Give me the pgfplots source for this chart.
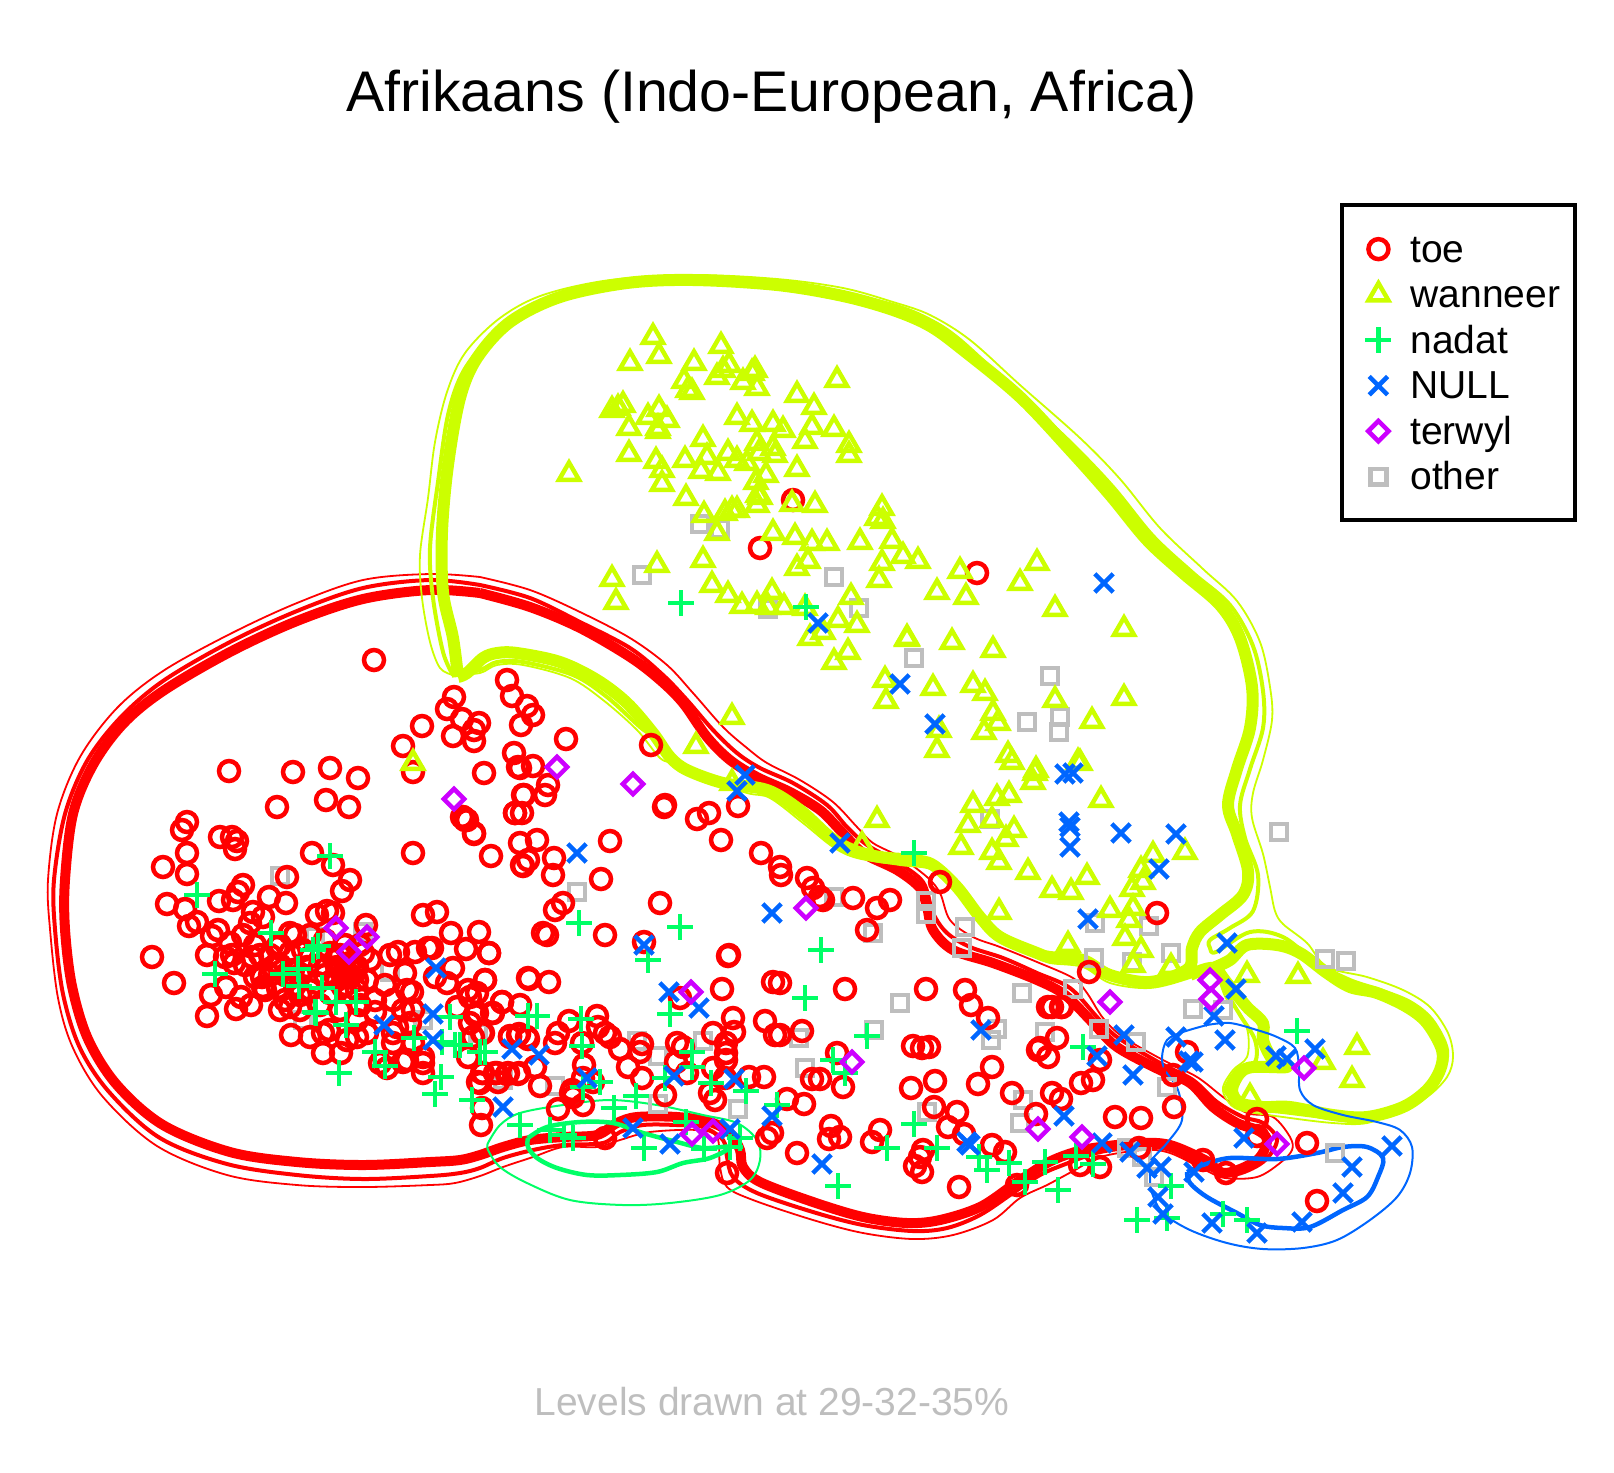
\documentclass[border=0pt]{standalone}
\usepackage{fontspec}
\setmainfont{Liberation Sans}
\usepackage{pgfplots}
\pgfplotsset{compat=1.18}
\definecolor{cToe}{HTML}{FF0000}
\definecolor{cWan}{HTML}{CCFF00}
\definecolor{cNad}{HTML}{00FF66}
\definecolor{cNul}{HTML}{0066FF}
\definecolor{cTer}{HTML}{CC00FF}
\definecolor{cOth}{HTML}{BEBEBE}
\pgfplotsset{
  lev/.style={forget plot, no markers, smooth, tension=0.55, line join=round},
  thinL/.style={lev, line width=0.18mm},
  midL/.style={lev, line width=0.4mm},
  thickL/.style={lev, line width=1.0mm},
  mk/.style={only marks, legend image code/.code={\draw[##1] plot coordinates {(0.23cm,0.13cm)}; \path (0cm,0cm) (0.49cm,0cm);}},
}
\begin{document}
\begin{tikzpicture}
\begin{axis}[
  scale only axis, width=161.4mm, height=147.2mm,
  xmin=0, xmax=1614, ymin=0, ymax=1472, y dir=reverse,
  axis lines=none, clip=false,
  title={Afrikaans (Indo-European, Africa)},
  title style={at={(0.478,0.920)}, anchor=center, font=\fontsize{16.3}{17}\selectfont},
  legend style={at={(0.8305,0.862)}, anchor=north west, draw=black, line width=0.4mm,
    font=\fontsize{11.1}{12}\selectfont, inner xsep=1.1mm, inner ysep=2.1mm, row sep=0pt,
    nodes={inner ysep=0pt, inner xsep=0.4mm, text height=3.6mm, text depth=0.95mm, anchor=base west}},
  legend cell align=left,
]
\path (rel axis cs:0,0) rectangle (rel axis cs:1,1);

% red contours
\addplot[thinL, cToe] coordinates {(480,577)(530,590)(580,612)(630,638)(667,665)(693,693)(723,727)(747,748)(767,763)(800,780)(833,802)(857,827)(873,843)(900,857)(927,877)(940,893)(950,920)(973,937)(1000,947)(1037,962)(1073,978)(1087,993)(1103,1018)(1123,1037)(1163,1060)(1197,1077)(1223,1097)(1247,1113)(1273,1117)(1290,1137)(1292,1150)(1280,1163)(1257,1177)(1225,1178)(1205,1170)(1170,1153)(1143,1150)(1100,1157)(1075,1170)(1047,1185)(1020,1198)(993,1220)(953,1235)(913,1239)(863,1233)(813,1220)(753,1200)(727,1187)(720,1167)(717,1137)(697,1130)(650,1132)(620,1140)(597,1147)(563,1147)(533,1157)(503,1167)(480,1176)(455,1183)(430,1185)(363,1187)(297,1185)(227,1175)(157,1146)(103,1097)(73,1048)(58,998)(50,929)(48,880)(57,814)(80,757)(117,708)(163,671)(230,634)(297,603)(363,580)(430,574)(480,577)};
\addplot[midL, cToe] coordinates {(480,585)(530,598)(580,622)(630,648)(663,675)(687,700)(713,730)(737,753)(760,768)(793,783)(827,805)(847,827)(867,845)(897,862)(923,882)(933,913)(947,933)(970,947)(1003,958)(1037,973)(1070,988)(1097,1017)(1117,1037)(1160,1063)(1193,1080)(1217,1102)(1243,1117)(1263,1123)(1277,1140)(1263,1162)(1233,1175)(1207,1168)(1170,1150)(1143,1147)(1100,1152)(1063,1165)(1040,1175)(1013,1193)(980,1215)(947,1228)(913,1231)(863,1225)(813,1212)(757,1193)(733,1177)(727,1157)(723,1140)(703,1127)(677,1125)(643,1125)(620,1132)(603,1143)(563,1145)(533,1150)(503,1158)(480,1168)(460,1173)(430,1176)(363,1179)(297,1175)(227,1164)(160,1138)(110,1093)(80,1048)(63,994)(55,929)(54,880)(65,814)(87,761)(120,718)(163,681)(230,642)(297,611)(363,588)(430,580)(480,585)};
\addplot[thickL, cToe] coordinates {(480,593)(530,607)(580,628)(630,657)(660,680)(683,703)(707,737)(730,760)(757,777)(790,792)(820,810)(840,830)(863,853)(897,870)(920,888)(927,907)(933,930)(953,950)(993,963)(1037,980)(1065,995)(1093,1023)(1117,1047)(1160,1070)(1190,1083)(1213,1107)(1237,1123)(1257,1130)(1267,1140)(1257,1160)(1225,1173)(1205,1160)(1170,1145)(1140,1143)(1100,1147)(1075,1152)(1047,1163)(1013,1185)(980,1207)(940,1220)(907,1223)(863,1217)(813,1202)(760,1182)(743,1167)(740,1150)(730,1133)(710,1122)(677,1117)(637,1117)(617,1123)(597,1135)(563,1137)(530,1140)(503,1147)(480,1155)(460,1160)(430,1162)(363,1165)(297,1162)(230,1152)(163,1125)(117,1085)(88,1039)(72,986)(65,929)(65,880)(73,814)(93,765)(123,724)(163,691)(230,652)(297,621)(363,599)(430,590)(480,593)};

% lime contours
\addplot[thinL, cWan] coordinates {(453,675)(440,668)(430,642)(422,598)(420,555)(428,498)(435,442)(447,392)(465,353)(500,318)(543,295)(610,280)(693,275)(777,279)(843,288)(893,302)(930,315)(970,340)(1020,385)(1080,438)(1120,479)(1160,528)(1203,569)(1237,601)(1260,642)(1270,687)(1272,720)(1263,760)(1253,793)(1252,818)(1263,854)(1270,887)(1275,911)(1283,924)(1307,943)(1327,967)(1367,977)(1403,990)(1430,1007)(1448,1033)(1453,1057)(1447,1077)(1427,1097)(1400,1110)(1367,1123)(1333,1123)(1283,1117)(1240,1110)(1227,1100)(1223,1087)(1233,1070)(1247,1057)(1248,1033)(1240,1013)(1227,1000)(1220,983)(1215,967)(1190,978)(1150,988)(1110,983)(1083,967)(1050,963)(1037,957)(1000,942)(980,922)(957,892)(933,870)(900,865)(857,858)(833,847)(803,823)(770,798)(747,793)(700,778)(675,764)(660,758)(637,730)(603,700)(570,678)(523,665)(497,665)(480,673)(453,675)};
\addplot[midL, cWan] coordinates {(453,675)(443,652)(433,598)(430,548)(438,482)(448,415)(463,372)(490,338)(530,308)(587,288)(660,278)(743,280)(827,291)(893,305)(930,320)(960,340)(1013,389)(1070,442)(1113,487)(1153,536)(1193,573)(1230,605)(1253,646)(1263,691)(1263,728)(1250,769)(1240,805)(1245,838)(1258,875)(1253,911)(1230,928)(1210,940)(1210,948)(1216,952)(1250,932)(1283,937)(1317,963)(1350,980)(1380,990)(1410,1002)(1432,1020)(1447,1050)(1440,1075)(1420,1095)(1395,1110)(1367,1120)(1333,1118)(1283,1112)(1240,1107)(1228,1095)(1226,1087)(1237,1070)(1255,1062)(1255,1040)(1240,1015)(1225,990)(1215,968)(1190,976)(1150,985)(1110,979)(1083,964)(1050,960)(1037,955)(1000,940)(980,920)(957,890)(933,868)(900,862)(857,856)(833,844)(803,819)(770,795)(747,789)(700,775)(675,761)(655,738)(640,727)(607,697)(573,675)(523,662)(497,662)(480,670)(453,675)};
\addplot[thickL, cWan, line width=1.2mm] coordinates {(458,677)(453,638)(443,592)(442,532)(448,465)(460,398)(477,358)(510,322)(560,297)(627,283)(693,280)(777,285)(843,296)(893,310)(930,326)(963,350)(1020,397)(1070,450)(1110,495)(1147,540)(1183,573)(1220,605)(1240,638)(1252,687)(1250,728)(1237,769)(1228,805)(1237,834)(1248,871)(1243,895)(1220,915)(1200,932)(1192,948)(1188,969)(1150,982)(1110,975)(1083,960)(1050,957)(1037,953)(1000,937)(980,917)(957,887)(933,865)(913,860)(880,857)(853,850)(830,837)(800,810)(767,790)(723,783)(687,770)(670,757)(653,733)(627,703)(597,680)(560,662)(517,653)(497,653)(483,658)(467,673)(458,677)};
\addplot[thickL, cWan, line width=1.2mm] coordinates {(1190,975)(1213,968)(1227,983)(1247,1007)(1263,1023)(1263,1040)(1273,1060)(1287,1067)(1253,1067)(1240,1073)(1232,1090)(1240,1103)(1263,1107)(1290,1107)(1333,1115)(1367,1117)(1403,1107)(1427,1090)(1440,1070)(1442,1050)(1427,1023)(1407,1007)(1377,993)(1350,987)(1327,973)(1300,953)(1277,945)(1247,945)(1230,960)(1213,968)};

% green contours
\addplot[thinL, cNad, line width=0.2mm] coordinates {(488,1143)(500,1125)(520,1113)(563,1105)(610,1100)(657,1105)(703,1115)(737,1123)(757,1140)(760,1160)(750,1180)(720,1195)(670,1203)(623,1205)(570,1200)(527,1183)(500,1167)(488,1150)(488,1143)};
\addplot[midL, cNad, line width=0.45mm] coordinates {(528,1138)(547,1127)(580,1122)(613,1123)(643,1133)(677,1142)(703,1148)(730,1147)(710,1158)(683,1163)(657,1172)(620,1175)(587,1175)(557,1168)(537,1158)(528,1147)(528,1138)};

% blue contours
\addplot[thinL, cNul, line width=0.2mm] coordinates {(1207,1025)(1230,1023)(1257,1030)(1277,1037)(1295,1048)(1299,1067)(1300,1090)(1313,1105)(1343,1115)(1377,1122)(1400,1130)(1412,1147)(1410,1173)(1397,1197)(1370,1220)(1337,1240)(1303,1248)(1263,1249)(1227,1243)(1190,1230)(1163,1213)(1152,1193)(1150,1177)(1152,1160)(1167,1143)(1182,1120)(1178,1090)(1165,1070)(1162,1057)(1167,1040)(1183,1032)(1207,1025)};
\addplot[midL, cNul, line width=0.45mm] coordinates {(1187,1172)(1203,1165)(1230,1158)(1277,1159)(1317,1153)(1343,1147)(1367,1147)(1383,1158)(1378,1177)(1367,1197)(1343,1210)(1310,1227)(1283,1228)(1260,1225)(1237,1213)(1207,1197)(1190,1183)(1187,1172)};

% other, drawn first so the rest lies on it
\addplot[forget plot, only marks, mark=square, mark size=0.78mm, cOth, mark options={line width=0.45mm}] coordinates {
(700,524)(720,529)(642,575)(834,577)(768,609)(859,608)(914,658)(1050,676)(1027,722)(1060,717)(1059,732)(990,819)(834,897)(873,933)(926,901)(926,914)(965,927)(962,948)(1095,923)(1149,926)(1171,953)(1094,958)(1132,962)(1325,959)(1346,961)(1073,989)(1099,1029)(1136,1042)(1167,1087)(1193,1009)(1223,1010)(1335,1153)(1127,1148)(1142,1157)(1154,1177)(900,1003)(874,1030)(1022,993)(997,1029)(991,1040)(1045,1032)(799,1038)(805,1068)(1023,1100)(1020,1123)(927,1112)(555,1086)(637,1041)(658,1056)(703,1041)(658,1104)(738,1109)(478,1033)(280,876)(363,932)(315,937)(390,972)(303,1020)(423,1020)(503,1080)(577,892)(1279,832)
};

% toe
\addplot[mk, mark=o, mark size=1.0mm, cToe, mark options={line width=0.45mm}] coordinates {
(374,660)(229,771)(293,772)(330,768)(358,778)(277,807)(326,800)(349,807)(187,822)(182,830)(220,837)(232,837)(237,841)(235,849)(187,853)(163,867)(187,874)(312,853)(333,865)(350,880)(342,891)(413,853)(287,877)(243,885)(238,892)(233,900)(219,901)(167,904)(185,909)(197,922)(189,926)(269,897)(286,903)
(463,817)(467,820)(474,833)(491,856)(522,813)(515,813)(523,795)(520,843)(522,865)(317,915)(327,911)(333,913)(423,915)(437,912)(451,933)(479,932)(466,949)(489,953)(366,925)
(218,930)(212,936)(207,955)(152,957)(174,983)(253,912)(263,917)(250,923)(243,935)(230,943)(225,957)(232,955)(234,963)(252,957)(262,977)(255,977)(273,967)(277,947)(290,933)(290,953)(303,950)(278,988)(263,987)
(307,967)(293,970)(310,957)(330,953)(337,967)(347,977)(357,967)(367,980)(343,987)(357,990)(317,983)(330,993)(363,953)(370,960)(345,970)(350,963)(337,980)(357,980)(335,960)(340,970)(350,975)(345,985)(340,955)(355,972)(325,975)(320,965)(300,975)(310,990)(300,995)(285,975)(280,965)(270,975)(295,985)
(255,945)(270,955)(245,965)(265,990)(285,1000)(300,1010)(320,1005)(340,1010)(360,1005)(375,1000)(385,985)(260,955)(280,945)(295,935)(310,935)(325,940)(345,945)(360,945)
(390,955)(398,952)(415,952)(428,948)(432,948)(405,973)(453,968)(435,977)(447,983)(485,980)(528,978)(407,990)(412,992)(393,1000)(413,1010)(211,995)(226,987)(241,997)(236,1009)(251,1005)(207,1016)(280,1010)(290,1007)(375,1012)(403,1010)(393,1043)(407,1060)
(291,1035)(310,1037)(323,1033)(329,1030)(323,1053)(341,1053)(347,1040)(357,1037)(367,1033)(357,1020)(468,990)(470,997)(457,1007)(502,1002)(520,1005)(493,1013)(477,1013)(470,1023)(483,1033)(473,1037)(510,1037)(518,1035)(527,1037)(468,1057)(423,1057)(423,1063)(423,1073)(380,1063)(387,1068)(403,1062)(393,1033)(413,1043)(410,1023)(397,1027)(478,1082)(497,1073)(508,1073)(519,1073)(483,1073)
(507,680)(512,696)(527,706)(533,715)(521,725)(454,697)(447,709)(462,719)(479,723)(474,730)(453,736)(474,741)(422,726)(403,746)(413,772)(566,739)(484,773)(514,753)(518,767)(520,768)(533,766)(548,785)(545,795)(524,795)(515,813)(462,817)(465,820)(474,834)(537,840)(528,860)(523,866)(554,858)(553,875)
(651,745)(665,805)(664,807)(697,819)(709,813)(738,806)(721,840)(610,841)(761,853)(780,867)(781,875)(601,879)(660,903)(563,903)(555,910)(543,933)(547,935)(605,935)(644,942)(729,955)(807,878)(813,888)(820,897)(853,898)(890,900)(877,908)(867,930)(823,900)(940,882)(793,500)(760,548)(977,573)(1157,913)(1089,972)
(780,983)(845,989)(926,989)(965,990)(971,1005)(988,1018)(1048,1007)(1061,1007)(1057,1038)(1040,1048)(1038,1050)(1048,1057)(802,1031)(780,1035)(837,1053)(913,1046)(922,1048)(929,1047)(992,1067)(978,1084)(935,1081)(911,1088)(1012,1093)(1052,1093)(1061,1099)(1081,1083)(1093,1080)(1100,1060)(1173,1075)(1174,1107)
(812,1079)(820,1079)(843,1087)(787,1099)(804,1104)(934,1107)(957,1112)(948,1127)(964,1134)(1036,1114)(1115,1117)(1141,1118)(831,1126)(829,1139)(840,1137)(880,1130)(872,1142)(797,1153)(923,1150)(920,1157)(915,1166)(922,1172)(992,1145)(1005,1152)(959,1187)(1017,1185)(1080,1165)(1100,1167)(1139,1148)
(1062,1007)(1052,1007)(1187,1052)(1257,1119)(1257,1136)(1307,1143)(1317,1201)(1203,1160)(1226,1173)
(489,953)(485,980)(529,979)(549,982)(502,1002)(492,1013)(477,993)(475,1015)(482,1033)(510,1036)(519,1034)(528,1039)(558,1033)(555,1043)(569,1021)(597,1016)(582,1043)(598,1027)(605,1033)(610,1037)(620,1049)(642,1044)(640,1052)(628,1067)(584,1065)(583,1078)(593,1082)(642,1078)(535,1067)(518,1074)(507,1074)(495,1073)(498,1082)(482,1073)(480,1083)(540,1086)(482,1108)(481,1125)(572,1090)(571,1093)(573,1097)(583,1105)(558,1109)(665,1095)(605,1138)
(680,998)(722,989)(773,982)(728,956)(733,1018)(734,1032)(765,1021)(775,1035)(713,1033)(677,1043)(683,1047)(676,1062)(687,1073)(726,1043)(726,1053)(726,1060)(713,1068)(725,1078)(710,1093)(715,1100)(749,1077)(764,1077)(772,1133)(767,1138)(727,1173)
};
\addlegendentry{toe}

% wanneer
\addplot[mk, mark=triangle, mark size=1.15mm, cWan, mark options={line width=0.45mm}] coordinates {
(653,337)(659,356)(630,363)(694,363)(721,346)(729,365)(723,370)(717,377)(684,381)(688,390)(692,392)(755,370)(743,382)(757,388)(752,373)(837,380)(797,395)(814,407)(812,427)(834,429)(849,445)(849,455)(805,441)(618,408)(623,405)(612,410)(629,428)(648,417)(659,409)(667,420)(658,428)(658,431)(629,454)(656,461)(662,470)(662,484)(737,417)(752,424)(773,424)(783,430)(703,439)(685,460)(707,457)(728,453)(737,460)(701,471)(718,473)(747,463)(757,443)(759,453)(773,448)(775,455)(797,469)(766,475)(756,482)(686,498)(569,474)(758,495)(757,505)(760,497)(792,504)(815,505)(704,515)(732,510)(725,513)(737,510)(717,533)(773,533)(795,537)(812,543)(827,543)(860,542)(882,508)(877,518)(883,521)(892,541)(903,556)(918,561)(808,561)(797,568)(882,563)(879,580)(657,565)(703,560)(612,579)(616,602)(712,585)(728,595)(742,606)(757,605)(772,592)(768,607)(784,607)(805,608)(851,597)(838,620)(857,625)(823,632)(810,638)(907,638)(848,652)(834,662)(885,680)
(1037,563)(960,571)(1020,583)(937,592)(966,597)(1055,609)(1124,629)(907,639)(952,642)(993,650)(886,701)(933,688)(973,685)(985,693)(1055,700)(1124,698)(1092,721)(993,713)(998,723)(984,732)(939,730)(937,750)(1008,755)(1012,762)(1036,770)(1035,773)(1033,782)(1080,763)(1078,762)(1101,800)(997,798)(1009,795)(973,805)(968,825)(992,820)(1014,830)(1006,839)(877,820)(961,847)(992,852)(999,862)(1028,872)(1087,877)(1052,890)(1071,892)(999,912)(1110,910)(1133,908)(1129,920)(1125,938)(1068,945)(1141,950)(1153,855)(1141,870)(1185,852)(1143,882)(1132,889)(862,845)(1133,965)(1171,967)
(1247,975)(1298,976)(1357,1047)(1352,1080)(1250,1097)(1323,1062)(732,717)(696,746)(732,783)(413,763)
};
\addlegendentry{wanneer}

% nadat
\addplot[mk, mark=+, mark size=1.3mm, cNad, mark options={line width=0.45mm}] coordinates {
(330,856)(197,895)(271,933)(318,946)(313,950)(215,974)(298,969)(283,974)(299,986)(322,988)(336,1002)(356,1002)(315,1012)(316,1013)(346,1025)(339,1073)(375,1052)(385,1066)(450,1017)(414,1038)(442,1042)(455,1045)(460,1045)(480,1052)(485,1052)(441,1077)(435,1094)(472,1100)
(648,960)(821,950)(528,1016)(537,1016)(581,1019)(670,1014)(805,998)(867,1036)(582,1046)(692,1052)(692,1067)(665,1078)(711,1083)(600,1082)(583,1087)(636,1096)(614,1108)(746,1091)(520,1125)(550,1130)(564,1135)(573,1138)(686,1122)(644,1148)(704,1149)(730,1147)(740,1138)(838,1186)(777,1105)(833,1060)(845,1073)
(579,923)(680,927)(914,1124)(887,1148)(937,1148)(979,1157)(987,1170)(1009,1163)(1025,1182)(1045,1162)(1058,1190)(1076,1156)(1093,1164)(1083,1047)(1137,1220)(1171,1186)(1167,1218)(1223,1214)(1247,1220)(1297,1031)(681,603)(806,607)(914,853)
};
\addlegendentry{nadat}

% NULL
\addplot[mk, mark=x, mark size=1.3mm, cNul, mark options={line width=0.45mm}] coordinates {
(818,623)(900,684)(935,724)(745,775)(737,791)(840,843)(577,853)(1104,583)(1065,774)(1073,773)(1069,822)(1070,827)(1070,847)(1121,833)(1176,834)(1159,869)(1088,919)(1227,943)(772,913)(644,945)(436,968)(669,992)(699,1008)(512,1049)(539,1055)(587,1078)(674,1076)(734,1079)(503,1107)(633,1128)(670,1144)(730,1129)(772,1116)(822,1164)(384,1025)(433,1014)(433,1040)(981,1030)(970,1145)(967,1142)
(1236,989)(1214,1016)(1225,1040)(1176,1037)(1124,1035)(1097,1056)(1133,1075)(1189,1061)(1193,1062)(1064,1116)(1102,1143)(1130,1152)(1147,1168)(1161,1167)(1158,1197)(1163,1214)(1244,1138)(1194,1172)(1212,1223)(1257,1233)(1302,1222)(1343,1193)(1352,1167)(1392,1146)(1276,1056)(1287,1059)(1315,1049)
};
\addlegendentry{NULL}

% terwyl
\addplot[mk, mark=square, mark size=0.72mm, cTer, mark options={line width=0.45mm, rotate=45}] coordinates {
(336,928)(367,937)(349,952)(454,799)(557,767)(633,784)(691,992)(852,1062)(692,1134)(713,1131)(806,908)(1038,1129)(1082,1137)(1110,1002)(1210,980)(1211,999)(1277,1144)(1304,1068)
};
\addlegendentry{terwyl}

\addlegendimage{mk, mark=square, mark size=0.78mm, cOth, mark options={line width=0.45mm}}
\addlegendentry{other}

\node[text=cOth, font=\fontsize{11.1}{12}\selectfont] at (axis cs:772,1402) {Levels drawn at 29-32-35\%};
\end{axis}
\end{tikzpicture}
\end{document}
